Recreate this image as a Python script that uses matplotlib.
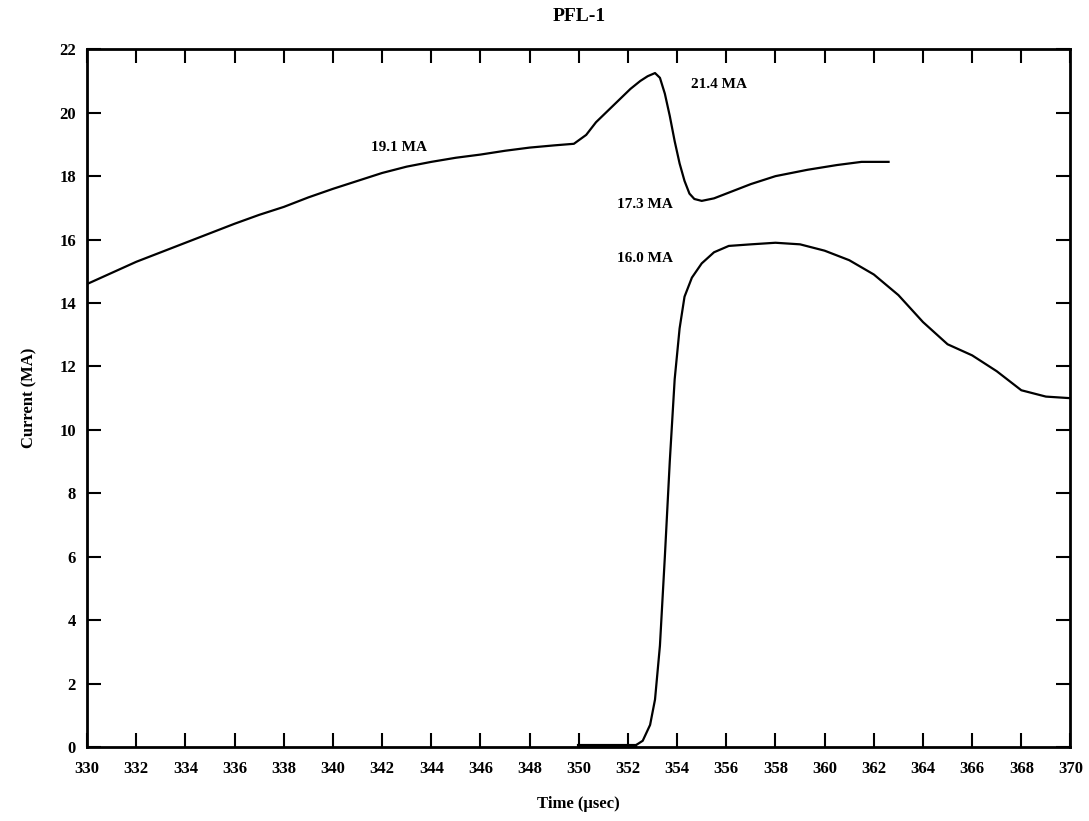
import matplotlib
matplotlib.use("Agg")
import matplotlib.pyplot as plt

# Upper curve (total current)
t_upper = [330, 331, 332, 333, 334, 335, 336, 337, 338, 339, 340, 341, 342, 343, 344, 345, 346, 347,
           348, 349, 349.8, 350.3, 350.7, 351.1, 351.5, 352.1, 352.5, 352.8, 353.1, 353.3, 353.5,
           353.7, 353.9, 354.1, 354.3, 354.5, 354.7, 355.0, 355.5, 356, 357, 358, 359.3, 360.5,
           361.5, 362.6]
i_upper = [14.6, 14.95, 15.3, 15.6, 15.9, 16.2, 16.5, 16.78, 17.03, 17.33, 17.6, 17.85, 18.1, 18.3,
           18.45, 18.58, 18.68, 18.8, 18.9, 18.97, 19.02, 19.3, 19.7, 20.0, 20.3, 20.75, 21.0, 21.15,
           21.25, 21.1, 20.6, 19.9, 19.1, 18.4, 17.85, 17.45, 17.28, 17.22, 17.3, 17.45, 17.75, 18.0,
           18.2, 18.35, 18.45, 18.45]

# Lower curve (load current)
t_lower = [350, 351, 352, 352.3, 352.6, 352.9, 353.1, 353.3, 353.5, 353.7, 353.9, 354.1, 354.3,
           354.6, 355.0, 355.5, 356.1, 357, 358, 359, 360, 361, 362, 363, 364, 365, 366, 367, 368,
           369, 370]
i_lower = [0.0, 0.0, 0.0, 0.05, 0.2, 0.7, 1.5, 3.2, 6.0, 9.0, 11.6, 13.2, 14.2, 14.8, 15.25, 15.6,
           15.8, 15.85, 15.9, 15.85, 15.65, 15.35, 14.9, 14.25, 13.4, 12.7, 12.35, 11.85, 11.25,
           11.05, 11.0]

x_ticks = list(range(330, 371, 2))
y_ticks = list(range(0, 23, 2))

annotations = [("19.1 MA", 342.7, 18.9), ("21.4 MA", 355.7, 20.9),
               ("17.3 MA", 352.7, 17.1), ("16.0 MA", 352.7, 15.4)]

plt.rcParams['font.family'] = ['Liberation Serif', 'DejaVu Serif']
plt.rcParams['font.weight'] = 'bold'

fig = plt.figure(figsize=(10.89, 8.21), dpi=100)
ax = fig.add_axes([0.080, 0.090, 0.903, 0.850])

ax.plot(t_upper, i_upper, color='black', lw=1.6)
ax.plot(t_lower, i_lower, color='black', lw=1.6)
ax.plot([350, 352.3], [0.05, 0.05], color='black', lw=3)

for txt, x, y in annotations:
    ax.text(x, y, txt, ha='center', va='center', fontsize=11, fontweight='bold')

ax.set_xlim(330, 370)
ax.set_ylim(0, 22)
ax.set_xticks(x_ticks)
ax.set_yticks(y_ticks)
ax.set_xticklabels([str(v) for v in x_ticks], fontsize=12, fontweight='bold')
ax.set_yticklabels([str(v) for v in y_ticks], fontsize=12, fontweight='bold')
ax.tick_params(axis='both', direction='in', top=True, right=True, length=10, width=1.5)
ax.tick_params(axis='x', pad=10)
ax.tick_params(axis='y', pad=8)
for s in ax.spines.values():
    s.set_linewidth(2)

ax.set_title("PFL-1", fontsize=14, fontweight='bold', pad=20)
ax.set_xlabel("Time (μsec)", fontsize=12, fontweight='bold', labelpad=14)
ax.set_ylabel("Current (MA)", fontsize=12, fontweight='bold', labelpad=16)

fig.savefig("out.png", dpi=100)
